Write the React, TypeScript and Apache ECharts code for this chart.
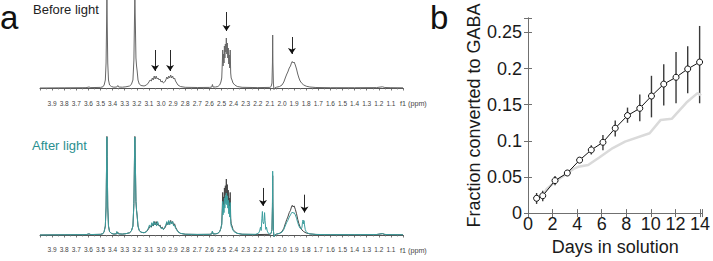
import React, { useEffect, useRef } from "react";
import * as echarts from "echarts";

const FONT = "'Liberation Sans', Arial, Helvetica, sans-serif";

// ---------- Panel a : 1H NMR spectra, [ppm, intensity] ----------
const beforeSpectrum: [number, number][] = [
  [4.0, 0], [3.8, 0.2], [3.62, 0.3], [3.595, 1], [3.58, 0.4], [3.5, 0.6], [3.48, 1.2], [3.47, 3], [3.46, 8],
  [3.454, 25], [3.449, 70], [3.447, 88], [3.445, 70], [3.44, 25], [3.434, 8], [3.425, 3], [3.41, 1.5],
  [3.39, 0.8], [3.365, 1], [3.357, 2.5], [3.35, 1], [3.32, 0.8], [3.29, 1.2], [3.26, 2], [3.245, 3.5],
  [3.232, 8], [3.224, 28], [3.219, 70], [3.216, 88], [3.212, 65], [3.207, 30], [3.202, 22], [3.197, 17],
  [3.19, 8], [3.18, 4], [3.165, 2.5], [3.14, 2], [3.12, 3], [3.105, 5], [3.09, 8], [3.08, 7], [3.072, 10],
  [3.064, 8], [3.056, 12], [3.048, 9], [3.04, 12], [3.032, 9], [3.024, 10], [3.016, 8], [3.008, 9], [3.0, 6],
  [2.99, 7], [2.98, 5], [2.97, 6], [2.96, 8], [2.952, 11], [2.944, 9], [2.936, 12], [2.928, 10], [2.92, 13],
  [2.912, 10], [2.904, 12], [2.896, 9], [2.888, 10], [2.88, 7], [2.87, 5], [2.86, 3], [2.84, 1.5], [2.8, 0.7],
  [2.7, 0.5], [2.6, 0.6], [2.58, 1], [2.575, 3.5], [2.57, 1], [2.55, 1], [2.53, 1.5], [2.515, 3], [2.505, 6],
  [2.498, 10], [2.493, 26], [2.49, 38], [2.487, 22], [2.483, 34], [2.479, 25], [2.476, 42], [2.472, 30],
  [2.468, 44], [2.464, 36], [2.46, 50], [2.456, 34], [2.452, 45], [2.448, 30], [2.444, 40], [2.44, 24],
  [2.436, 33], [2.432, 20], [2.428, 38], [2.424, 15], [2.42, 10], [2.413, 8], [2.405, 5], [2.39, 3],
  [2.37, 1.5], [2.33, 0.7], [2.2, 0.4], [2.1, 0.6], [2.09, 1.5], [2.083, 5], [2.079, 25], [2.077, 53],
  [2.075, 25], [2.071, 4], [2.066, -1.5], [2.06, 0], [2.045, 0.8], [2.02, 1.5], [2.0, 3], [1.985, 6],
  [1.97, 11], [1.96, 14], [1.952, 16], [1.94, 20], [1.93, 22], [1.922, 25], [1.915, 26.5], [1.908, 25],
  [1.9, 26], [1.89, 23], [1.88, 19], [1.87, 14], [1.86, 10], [1.85, 7], [1.835, 4.5], [1.82, 3], [1.8, 1.8],
  [1.77, 1], [1.72, 0.5], [1.6, 0.3], [1.4, 0.3], [1.22, 0.4], [1.19, 0.9], [1.17, 1.2], [1.15, 0.5],
  [1.1, 0.3], [1.0, 0.2],
];

const afterSpectrum: [number, number][] = [
  [4.0, 0], [3.8, 0.2], [3.62, 0.3], [3.595, 1], [3.58, 0.4], [3.5, 0.6], [3.48, 1.2], [3.47, 3], [3.46, 8],
  [3.454, 25], [3.449, 70], [3.447, 87.5], [3.445, 70], [3.44, 25], [3.434, 8], [3.425, 3], [3.41, 1.5],
  [3.39, 0.8], [3.37, 1.2], [3.365, 3.2], [3.36, 1.2], [3.32, 0.8], [3.29, 1.2], [3.26, 2], [3.245, 3.5],
  [3.232, 8], [3.224, 28], [3.219, 70], [3.216, 87.5], [3.212, 65], [3.207, 30], [3.202, 22], [3.197, 17],
  [3.19, 8], [3.18, 4], [3.165, 2.5], [3.14, 2], [3.12, 3], [3.105, 6], [3.095, 9], [3.085, 7], [3.076, 11],
  [3.068, 8], [3.06, 12], [3.052, 9], [3.044, 11], [3.036, 8], [3.028, 12], [3.02, 9], [3.01, 8], [3.0, 6],
  [2.99, 6], [2.98, 5], [2.97, 7], [2.96, 9], [2.952, 12], [2.944, 9], [2.936, 13], [2.928, 9], [2.92, 12],
  [2.912, 10], [2.904, 12], [2.896, 8], [2.888, 9], [2.88, 6], [2.87, 4.5], [2.86, 3], [2.84, 1.5], [2.8, 0.7],
  [2.7, 0.5], [2.6, 0.6], [2.58, 1], [2.575, 3.5], [2.57, 1], [2.55, 1], [2.53, 1.5], [2.515, 3], [2.505, 6],
  [2.498, 9], [2.493, 20], [2.49, 30], [2.487, 18], [2.483, 27], [2.479, 20], [2.476, 33], [2.472, 24],
  [2.468, 35], [2.464, 28], [2.46, 37.5], [2.456, 27], [2.452, 35], [2.448, 24], [2.444, 31], [2.44, 19],
  [2.436, 26], [2.432, 16], [2.428, 29], [2.424, 12], [2.42, 8], [2.413, 6.5], [2.405, 4], [2.39, 2.5],
  [2.37, 1.5], [2.33, 0.7], [2.22, 0.6], [2.195, 1.5], [2.185, 3.5], [2.178, 7], [2.172, 4], [2.166, 15],
  [2.162, 21], [2.158, 12], [2.152, 10], [2.148, 12], [2.144, 20], [2.14, 13], [2.134, 5], [2.128, 7],
  [2.122, 3.5], [2.112, 1.5], [2.1, 0.8], [2.09, 1.5], [2.083, 5], [2.079, 28], [2.077, 57], [2.075, 28],
  [2.071, 4], [2.066, -1.5], [2.06, 0], [2.045, 0.8], [2.02, 1.5], [2.0, 2.5], [1.985, 5], [1.97, 9],
  [1.96, 11.5], [1.952, 13], [1.94, 16], [1.93, 18], [1.922, 19.5], [1.915, 20.5], [1.908, 19.5], [1.9, 20],
  [1.89, 18], [1.88, 15], [1.87, 11], [1.86, 8], [1.85, 6], [1.84, 5.5], [1.835, 7], [1.83, 12],
  [1.826, 13.4], [1.822, 10], [1.818, 12.8], [1.814, 9], [1.808, 5], [1.8, 3], [1.79, 1.8], [1.77, 1],
  [1.72, 0.5], [1.6, 0.3], [1.4, 0.3], [1.22, 0.4], [1.19, 0.9], [1.17, 1.2], [1.15, 0.5], [1.1, 0.3],
  [1.0, 0.2],
];

// arrows: [ppm, tail intensity, head intensity]
const beforeArrows: [number, number, number][] = [
  [3.049, 38, 17], [2.925, 38, 17], [2.459, 76, 57], [1.918, 51, 34],
];
const afterArrows: [number, number, number][] = [
  [2.157, 42, 26], [1.814, 36, 20],
];

// ---------- Panel b : fraction converted to GABA ----------
const days = [0.7, 1.2, 2.2, 3.2, 4.2, 5.15, 6.1, 7.1, 8.1, 9.1, 10.05, 11.05, 12.05, 13.0, 13.97];
const fraction = [0.0205, 0.024, 0.045, 0.0555, 0.0733, 0.0874, 0.098, 0.1175, 0.135, 0.145, 0.162, 0.1785, 0.188, 0.1995, 0.209];
const errLow = [0.0127, 0.0164, 0.0386, 0.0525, 0.0703, 0.081, 0.087, 0.106, 0.125, 0.127, 0.1325, 0.149, 0.152, 0.166, 0.152];
const errHigh = [0.0278, 0.031, 0.0514, 0.0585, 0.0763, 0.094, 0.108, 0.128, 0.146, 0.164, 0.19, 0.206, 0.223, 0.231, 0.259];
const greyDays = [1.2, 1.5, 2.3, 3.2, 3.7, 4.1, 4.9, 5.8, 6.9, 7.9, 9.9, 10.8, 11.7, 12.9, 13.8, 14.1];
const greyFraction = [0.024, 0.033, 0.0447, 0.055, 0.0612, 0.064, 0.0665, 0.077, 0.09, 0.099, 0.1105, 0.129, 0.1305, 0.153, 0.166, 0.163];

const ppmTicks = (v: number) => (v > 1.05 && v < 3.95 ? v.toFixed(1) : "");

function spectrumAxis(gridIndex: number) {
  return {
    type: "value",
    gridIndex,
    min: 1,
    max: 4,
    interval: 0.1,
    inverse: true,
    axisLine: { show: true, lineStyle: { color: "#555", width: 1 } },
    axisTick: { show: true, length: 2.5, lineStyle: { color: "#555", width: 0.8 } },
    minorTick: { show: true, splitNumber: 2, length: 1.5, lineStyle: { color: "#777", width: 0.8 } },
    axisLabel: { formatter: ppmTicks, fontSize: 6.5, color: "#444", margin: 3, fontFamily: FONT },
    splitLine: { show: false },
  };
}

function arrowMarks(arrows: [number, number, number][]) {
  return {
    silent: true,
    symbol: ["none", "arrow"],
    symbolSize: 6,
    label: { show: false },
    lineStyle: { color: "#111", width: 0.9, type: "solid" },
    emphasis: { disabled: true },
    data: arrows.map(([p, a, b]) => [{ coord: [p, a] }, { coord: [p, b] }]),
  };
}

export default function App() {
  const ref = useRef<HTMLDivElement>(null);
  useEffect(() => {
    if (!ref.current) return;
    const chart = echarts.init(ref.current, null, { renderer: "svg" });
    const boxColor = "#707070";
    const evenLabel = (v: number) => (Math.abs(v / 2 - Math.round(v / 2)) < 1e-6 ? String(Math.round(v)) : "");
    const yLabel = (v: number) => {
      const k = Math.round(v / 0.05);
      return Math.abs(v - k * 0.05) < 1e-6 ? String(+v.toFixed(2)) : "";
    };
    const option: any = {
      animation: false,
      textStyle: { fontFamily: FONT },
      grid: [
        { left: 40, right: 310, top: 0, height: 97 },
        { left: 40, right: 310, top: 130, height: 113 },
        { left: 528, right: 3, top: 18, height: 198 },
      ],
      xAxis: [
        spectrumAxis(0),
        spectrumAxis(1),
        {
          type: "value", gridIndex: 2, min: 0, max: 14.2, interval: 2,
          axisLine: { show: true, lineStyle: { color: boxColor, width: 1 } },
          axisTick: { show: true, inside: true, length: 4, lineStyle: { color: boxColor } },
          axisLabel: { formatter: evenLabel, fontSize: 18, color: "#1a1a1a", margin: 2, fontFamily: FONT },
          splitLine: { show: false },
          name: "Days in solution", nameLocation: "middle", nameGap: 16,
          nameTextStyle: { fontSize: 18, color: "#1a1a1a", fontFamily: FONT },
        },
        {
          type: "value", gridIndex: 2, min: 0, max: 14.2, interval: 2, position: "top",
          axisLine: { show: true, lineStyle: { color: boxColor, width: 1 } },
          axisTick: { show: true, inside: true, length: 4, lineStyle: { color: boxColor } },
          axisLabel: { show: false }, splitLine: { show: false },
        },
      ],
      yAxis: [
        { type: "value", gridIndex: 0, min: -9, max: 88, show: false, splitLine: { show: false } },
        { type: "value", gridIndex: 1, min: -7.14, max: 93.75, show: false, splitLine: { show: false } },
        {
          type: "value", gridIndex: 2, min: 0, max: 0.27, interval: 0.05,
          axisLine: { show: true, lineStyle: { color: boxColor, width: 1 } },
          axisTick: { show: true, inside: true, length: 4, lineStyle: { color: boxColor } },
          axisLabel: { formatter: yLabel, fontSize: 18, color: "#1a1a1a", margin: 6, fontFamily: FONT },
          splitLine: { show: false },
          name: "Fraction converted to GABA", nameLocation: "middle", nameGap: 41,
          nameTextStyle: { fontSize: 18, color: "#1a1a1a", fontFamily: FONT },
        },
        {
          type: "value", gridIndex: 2, min: 0, max: 0.27, interval: 0.05, position: "right",
          axisLine: { show: true, lineStyle: { color: boxColor, width: 1 } },
          axisTick: { show: true, inside: true, length: 4, lineStyle: { color: boxColor } },
          axisLabel: { show: false }, splitLine: { show: false },
        },
      ],
      series: [
        {
          type: "line", xAxisIndex: 0, yAxisIndex: 0, data: beforeSpectrum, showSymbol: false,
          lineStyle: { color: "#676767", width: 1 }, clip: true, silent: true,
          markLine: arrowMarks(beforeArrows),
        },
        {
          type: "line", xAxisIndex: 1, yAxisIndex: 1, data: beforeSpectrum, showSymbol: false,
          lineStyle: { color: "#454545", width: 1 }, clip: true, silent: true,
        },
        {
          type: "line", xAxisIndex: 1, yAxisIndex: 1, data: afterSpectrum, showSymbol: false,
          lineStyle: { color: "#3c9e9e", width: 1 }, clip: true, silent: true,
          markLine: arrowMarks(afterArrows),
        },
        {
          type: "line", xAxisIndex: 2, yAxisIndex: 2, showSymbol: false, silent: true,
          data: greyDays.map((d, i) => [d, greyFraction[i]]),
          lineStyle: { color: "#dadada", width: 2.5 },
        },
        {
          type: "custom", xAxisIndex: 2, yAxisIndex: 2, silent: true,
          data: days.map((d, i) => [d, errLow[i], errHigh[i]]),
          encode: { x: 0, y: [1, 2] },
          renderItem: (_p: any, api: any) => {
            const a = api.coord([api.value(0), api.value(1)]);
            const b = api.coord([api.value(0), api.value(2)]);
            return {
              type: "line",
              shape: { x1: a[0], y1: a[1], x2: b[0], y2: b[1] },
              style: { stroke: "#3a3a3a", lineWidth: 1.4 },
            };
          },
        },
        {
          type: "line", xAxisIndex: 2, yAxisIndex: 2, silent: true,
          data: days.map((d, i) => [d, fraction[i]]),
          symbol: "circle", symbolSize: 6, showSymbol: true,
          itemStyle: { color: "#ffffff", borderColor: "#111", borderWidth: 1 },
          lineStyle: { color: "#111", width: 1 },
        },
      ],
      graphic: [
        { type: "text", x: 0, y: 17.5, style: { text: "a", font: `33px ${FONT}`, fill: "#111", verticalAlign: "middle" } },
        { type: "text", x: 430, y: 17.5, style: { text: "b", font: `33px ${FONT}`, fill: "#111", verticalAlign: "middle" } },
        { type: "text", x: 33, y: 9.5, style: { text: "Before light", font: `13px ${FONT}`, fill: "#222", verticalAlign: "middle" } },
        { type: "text", x: 32, y: 145.5, style: { text: "After light", font: `13px ${FONT}`, fill: "#2a8f8f", verticalAlign: "middle" } },
        { type: "text", x: 400, y: 103.3, style: { text: "f1 (ppm)", font: `7.2px ${FONT}`, fill: "#444", verticalAlign: "middle" } },
        { type: "text", x: 400, y: 250, style: { text: "f1 (ppm)", font: `7.2px ${FONT}`, fill: "#444", verticalAlign: "middle" } },
      ],
    };
    chart.setOption(option);
    return () => chart.dispose();
  }, []);
  return <div ref={ref} style={{ position: "absolute", left: 0, top: 0, width: 713, height: 261, background: "#fff" }} />;
}
